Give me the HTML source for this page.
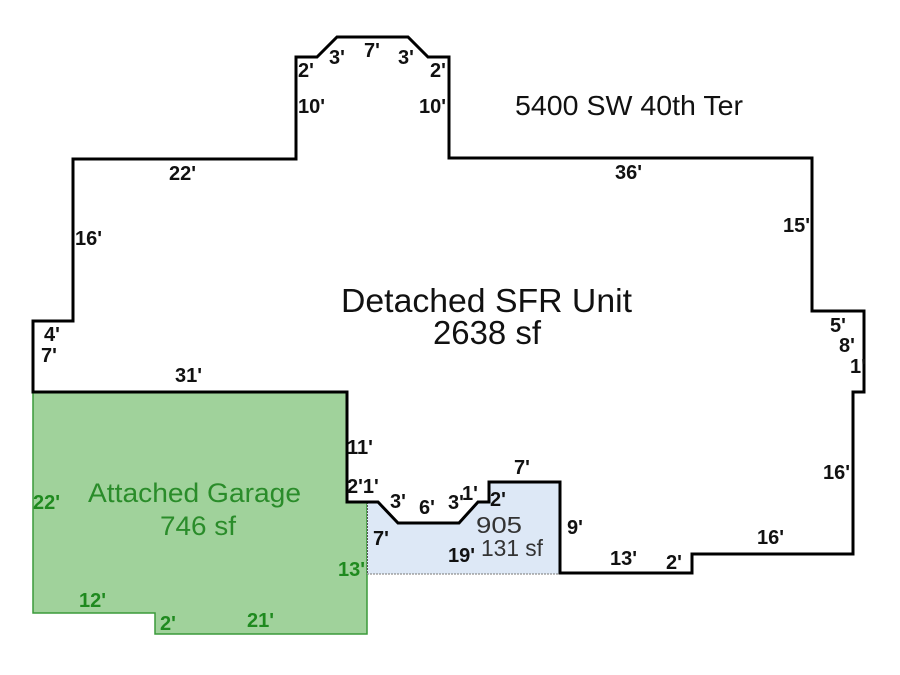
<!DOCTYPE html>
<html><head><meta charset="utf-8"><style>
html,body{margin:0;padding:0;background:#fff;}
svg{display:block;}
.d{font-family:"Liberation Sans",Arial,sans-serif;font-weight:bold;font-size:20px;fill:#111;}
.g{fill:#1f8a1f;}
.big{font-family:"Liberation Sans",Arial,sans-serif;fill:#111;}
</style></head><body>
<svg width="900" height="675" viewBox="0 0 900 675" xmlns="http://www.w3.org/2000/svg">
<rect width="900" height="675" fill="#fff"/>
<!-- garage -->
<polygon points="33,392 347,392 347,502 367,502 367,634 155,634 155,613 33,613" fill="#a0d29b" stroke="#3a9a3a" stroke-width="1.5"/>
<!-- sub area -->
<polygon points="367,502 378,502 398,523 459,523 478,502 489,502 489,482 560,482 560,574 367,574" fill="#dde8f6"/>
<line x1="367" y1="574" x2="560" y2="574" stroke="#777" stroke-width="1" stroke-dasharray="2,1"/>
<line x1="367.5" y1="502" x2="367.5" y2="574" stroke="#555" stroke-width="1" stroke-dasharray="2,1"/>
<!-- house -->
<polygon points="33,392 33,321 73,321 73,159 296,159 296,57 317,57 337,37 408,37 428,57 449,57 449,158 812,158 812,311 864,311 864,392 853,392 853,554 692,554 692,573 560,573 560,482 489,482 489,502 478,502 459,523 398,523 378,502 347,502 347,392" fill="none" stroke="#000" stroke-width="3" stroke-linejoin="miter"/>

<!-- big labels -->
<text class="big" x="515" y="115" font-size="28" textLength="228" lengthAdjust="spacingAndGlyphs">5400 SW 40th Ter</text>
<text class="big" x="341" y="312" font-size="33" textLength="291" lengthAdjust="spacingAndGlyphs">Detached SFR Unit</text>
<text class="big" x="433" y="344" font-size="33" textLength="108" lengthAdjust="spacingAndGlyphs">2638 sf</text>
<text class="big g" x="88" y="502" font-size="27" textLength="213" lengthAdjust="spacingAndGlyphs" style="fill:#2a8c2a">Attached Garage</text>
<text class="big g" x="160" y="535" font-size="27" textLength="76" lengthAdjust="spacingAndGlyphs" style="fill:#2a8c2a">746 sf</text>
<text class="big" x="476" y="533" font-size="23" textLength="46" lengthAdjust="spacingAndGlyphs" style="fill:#333">905</text>
<text class="big" x="481" y="556" font-size="23" textLength="62" lengthAdjust="spacingAndGlyphs" style="fill:#333">131 sf</text>

<!-- dimension labels -->
<g class="d">
<text x="298" y="77">2'</text>
<text x="329" y="64">3'</text>
<text x="364" y="57">7'</text>
<text x="398" y="64">3'</text>
<text x="430" y="77">2'</text>
<text x="298" y="113">10'</text>
<text x="419" y="113">10'</text>
<text x="169" y="180">22'</text>
<text x="615" y="179">36'</text>
<text x="75" y="245">16'</text>
<text x="783" y="232">15'</text>
<text x="44" y="341">4'</text>
<text x="830" y="332">5'</text>
<text x="41" y="362">7'</text>
<text x="839" y="352">8'</text>
<text x="850" y="373">1'</text>
<text x="175" y="382">31'</text>
<text x="347" y="454">11'</text>
<text x="347" y="493">2'1'</text>
<text x="514" y="474">7'</text>
<text x="823" y="479">16'</text>
<text x="390" y="508">3'</text>
<text x="419" y="514">6'</text>
<text x="448" y="509">3'</text>
<text x="462" y="500">1'</text>
<text x="490" y="506">2'</text>
<text x="567" y="534">9'</text>
<text x="373" y="545">7'</text>
<text x="757" y="544">16'</text>
<text x="448" y="562">19'</text>
<text x="610" y="565">13'</text>
<text x="666" y="569">2'</text>
</g>
<g class="d g">
<text x="33" y="509">22'</text>
<text x="338" y="576">13'</text>
<text x="79" y="607">12'</text>
<text x="160" y="630">2'</text>
<text x="247" y="627">21'</text>
</g>
</svg>
</body></html>
